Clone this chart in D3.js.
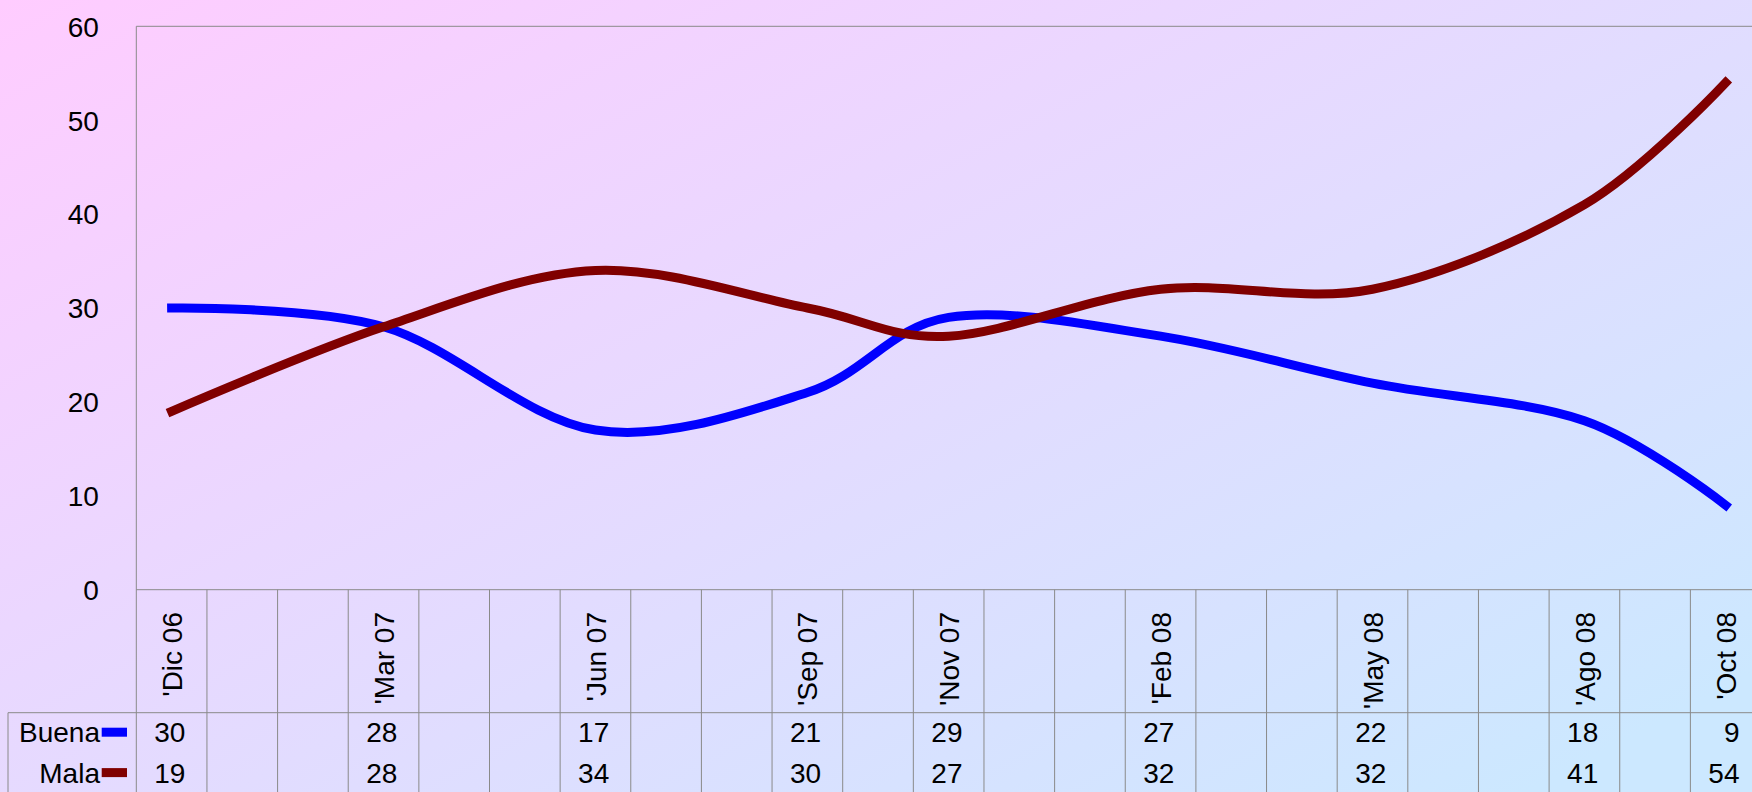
<!DOCTYPE html>
<html>
<head>
<meta charset="utf-8">
<script src="https://cdn.jsdelivr.net/npm/d3@7"></script>
<style>
  html, body { margin: 0; padding: 0; overflow: hidden; }
  svg { display: block; }
  text { font-family: "Liberation Sans", Arial, sans-serif; fill: #000; }
</style>
</head>
<body>
<svg id="chart" width="1752" height="792"></svg>
<script>
// ---- data ----
const categories = ["'Dic 06", "", "", "'Mar 07", "", "", "'Jun 07", "", "", "'Sep 07", "", "'Nov 07", "", "", "'Feb 08", "", "", "'May 08", "", "", "'Ago 08", "", "'Oct 08"];
const buena = [30, null, null, 28, null, null, 17, null, null, 21, null, 29, null, null, 27, null, null, 22, null, null, 18, null, 9];
const mala  = [19, null, null, 28, null, null, 34, null, null, 30, null, 27, null, null, 32, null, null, 32, null, null, 41, null, 54];
const seriesNames = ["Buena", "Mala"];
const seriesColors = ["#0000FF", "#800000"];
const yTicks = [0, 10, 20, 30, 40, 50, 60];

// ---- layout ----
const W = 1752, H = 792;
const plotL = 136.3, plotT = 26.3, plotB = 589.7;
const colW = 70.64;
const plotR = plotL + colW * categories.length;
const tableTop = 712.7, rowH = 40.4;
const tableLeft = 8;
const fs = 28;
const gridColor = "#8a8a8a";

const svg = d3.select("#chart");

// background gradient
const defs = svg.append("defs");
const grad = defs.append("linearGradient").attr("id", "bg")
  .attr("x1", 0).attr("y1", 0).attr("x2", 1).attr("y2", 0.85);
grad.append("stop").attr("offset", "0%").attr("stop-color", "#FFCCFF");
grad.append("stop").attr("offset", "100%").attr("stop-color", "#CCE8FF");
svg.append("rect").attr("width", W).attr("height", H).attr("fill", "url(#bg)");

// scales
const idx = categories.map((d, i) => i);
const x = d3.scaleBand().domain(idx).range([plotL, plotR]).paddingInner(0).paddingOuter(0);
const y = d3.scaleLinear().domain([0, 60]).range([plotB, plotT]);

// y axis labels (no tick marks)
const yAxis = d3.axisLeft(y).tickValues(yTicks).tickSize(0).tickPadding(0);
const gy = svg.append("g").attr("transform", `translate(${plotL - 37.5},0)`).call(yAxis);
gy.select(".domain").remove();
gy.selectAll("text").attr("font-size", fs).attr("dy", "0.35em")
  .style("font-family", '"Liberation Sans", Arial, sans-serif').attr("fill", "#000");

// plot frame lines
const lines = svg.append("g").attr("stroke", gridColor).attr("stroke-width", 1).attr("fill", "none");
lines.append("line").attr("x1", plotL).attr("x2", W).attr("y1", plotT).attr("y2", plotT);
lines.append("line").attr("x1", plotL).attr("x2", plotL).attr("y1", plotT).attr("y2", H);
lines.append("line").attr("x1", plotL).attr("x2", W).attr("y1", plotB).attr("y2", plotB);
lines.append("line").attr("x1", tableLeft).attr("x2", W).attr("y1", tableTop).attr("y2", tableTop);
lines.append("line").attr("x1", tableLeft).attr("x2", tableLeft).attr("y1", tableTop).attr("y2", H);
// column separators
lines.selectAll("line.col").data(idx.slice(1)).enter().append("line").attr("class", "col")
  .attr("x1", d => x(d)).attr("x2", d => x(d)).attr("y1", plotB).attr("y2", H);

// category labels (rotated)
svg.append("g").selectAll("text").data(idx.filter(i => categories[i] !== "")).enter().append("text")
  .attr("transform", d => `translate(${x(d) + x.bandwidth() / 2},612) rotate(-90)`)
  .attr("text-anchor", "end")
  .attr("dy", "0.36em")
  .attr("font-size", fs)
  .text(d => categories[d]);

// series lines
const allSeries = [buena, mala];
allSeries.forEach((vals, s) => {
  const pts = vals.map((v, i) => ({ i, v })).filter(d => d.v !== null);
  const line = d3.line()
    .x(d => x(d.i) + x.bandwidth() / 2)
    .y(d => y(d.v))
    .curve(d3.curveCardinal.tension(0));
  svg.append("path").datum(pts)
    .attr("d", line)
    .attr("fill", "none")
    .attr("stroke", seriesColors[s])
    .attr("stroke-width", 9)
    .attr("stroke-linecap", "square")
    .attr("stroke-linejoin", "round");
});

// data table rows
allSeries.forEach((vals, s) => {
  const base = tableTop + 29.6 + s * rowH;
  svg.append("text").attr("x", 100).attr("y", base).attr("text-anchor", "end")
    .attr("font-size", fs).text(seriesNames[s]);
  svg.append("rect").attr("x", 101.7).attr("y", base - 14.6).attr("width", 25.3).attr("height", 9)
    .attr("fill", seriesColors[s]);
  svg.append("g").selectAll("text").data(vals.map((v, i) => ({ i, v })).filter(d => d.v !== null))
    .enter().append("text")
    .attr("x", d => x(d.i) + x.bandwidth() - 21.5)
    .attr("y", base)
    .attr("text-anchor", "end")
    .attr("font-size", fs)
    .text(d => d.v);
});
</script>
</body>
</html>
